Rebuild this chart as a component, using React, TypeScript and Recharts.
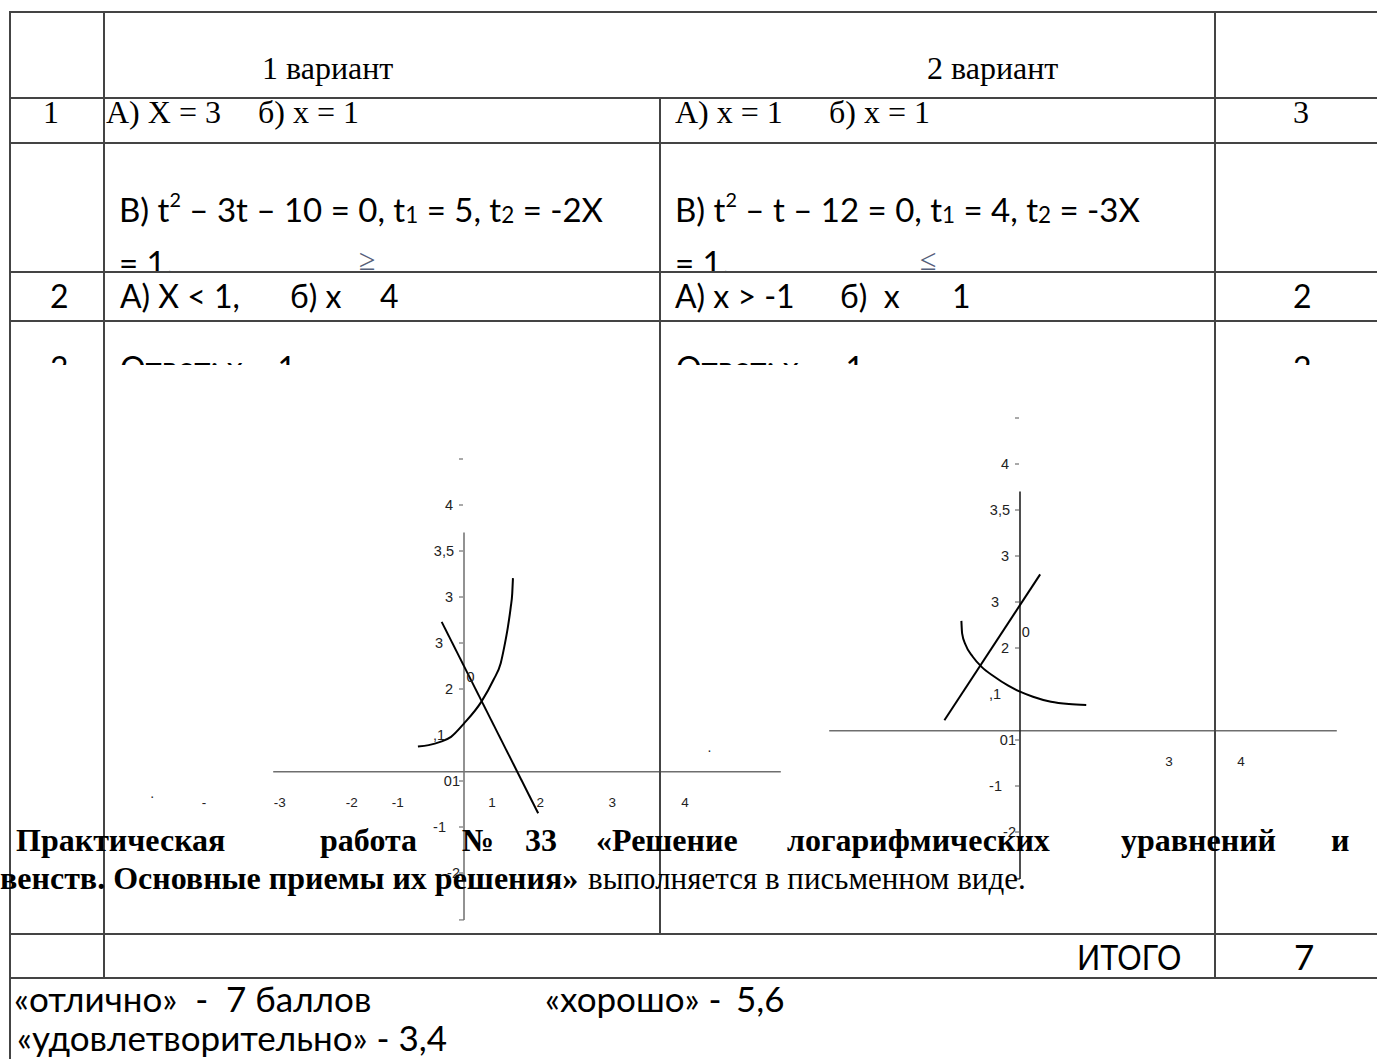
import React from 'react';
import { LineChart, Line, XAxis, YAxis, ReferenceLine, ReferenceDot } from 'recharts';

// ---------- chart data ----------
const yTickValues = [-2, -1, 0, 1, 2, 3, 4, 5, 6, 7];
const yTickLabels = ['-2', '-1', '01', ',1', '2', '3', '3', '3,5', '4', ''];

const xLabelValues1 = [-3.61, -2.56, -1.56, -0.92, 0.39, 1.06, 2.06, 3.07];
const xLabelTexts1 = ['-', '-3', '-2', '-1', '1', '2', '3', '4'];
const xLabelValues2 = [2.07, 3.07];
const xLabelTexts2 = ['3', '4'];

const curve1 = [
  { x: -0.64, y: 0.75 },
  { x: -0.49, y: 0.78 },
  { x: -0.33, y: 0.85 },
  { x: -0.18, y: 0.96 },
  { x: 0.0, y: 1.25 },
  { x: 0.24, y: 1.72 },
  { x: 0.41, y: 2.2 },
  { x: 0.51, y: 2.56 },
  { x: 0.56, y: 2.92 },
  { x: 0.61, y: 3.35 },
  { x: 0.65, y: 3.79 },
  { x: 0.67, y: 4.08 },
  { x: 0.68, y: 4.41 },
];
const line1 = [
  { x: -0.31, y: 3.46 },
  { x: 1.03, y: -0.7 },
];

const curve2 = [
  { x: -0.814, y: 2.59 },
  { x: -0.804, y: 2.32 },
  { x: -0.756, y: 2.07 },
  { x: -0.656, y: 1.81 },
  { x: -0.533, y: 1.59 },
  { x: -0.36, y: 1.38 },
  { x: -0.163, y: 1.18 },
  { x: 0.0, y: 1.05 },
  { x: 0.18, y: 0.94 },
  { x: 0.43, y: 0.83 },
  { x: 0.68, y: 0.78 },
  { x: 0.92, y: 0.76 },
];
const line2 = [
  { x: -1.05, y: 0.43 },
  { x: 0.28, y: 3.6 },
];

const axisXExtent = [-2.65, 4.4];
const axisXLevel = 0.2;
const axisYExtent = [-3.02, 5.4];
const xLabelLevel = -0.47;

// ---------- styles ----------
const yLabelShift: Record<number, number> = { [-2]: -4, [-1]: -18, 0: -4, 1: -19, 2: -11, 3: -21, 4: -11, 5: -10, 6: -11, 7: -10 };
const GFONT = '"Liberation Sans", Arial, sans-serif';
const SERIF = '"Liberation Serif", "Times New Roman", serif';
const SANS = 'Lato, "Liberation Sans", sans-serif';

const makeYTick = (label: string, v: number) => (p: any) => (
  <g>
    {v !== 1 && <line x1={p.cx - 5} x2={p.cx - 1} y1={p.cy} y2={p.cy} stroke="#555" strokeWidth={1} />}
    <text x={p.cx + (yLabelShift[v] ?? -10)} y={p.cy} dy="0.36em" textAnchor="end" fontSize={14.5} fontFamily={GFONT} fill="#222">
      {label}
    </text>
  </g>
);

const makeText = (label: string, size = 14) => (p: any) => (
  <text x={p.cx} y={p.cy} dy="0.36em" textAnchor="middle" fontSize={size} fontFamily={GFONT} fill="#222">
    {label}
  </text>
);

type GraphProps = {
  left: number;
  top: number;
  width: number;
  height: number;
  xDomain: [number, number];
  curve: { x: number; y: number }[];
  line: { x: number; y: number }[];
  xLabelValues: number[];
  xLabelTexts: string[];
  zeroPos: { x: number; y: number };
  extra?: { x: number; y: number; t: string }[];
  yAxisColor: string;
};

function Graph(props: GraphProps) {
  const { left, top, width, height, xDomain, curve, line, xLabelValues, xLabelTexts, zeroPos, extra, yAxisColor } = props;
  return (
    <div style={{ position: 'absolute', left, top, width, height }}>
      <LineChart width={width} height={height} margin={{ top: 0, right: 0, bottom: 0, left: 0 }}>
        <XAxis type="number" dataKey="x" domain={xDomain} hide allowDataOverflow />
        <YAxis type="number" dataKey="y" domain={[-3.5, 7.5]} hide allowDataOverflow />
        <ReferenceLine
          segment={[{ x: axisXExtent[0], y: axisXLevel }, { x: axisXExtent[1], y: axisXLevel }]}
          stroke="#6e6e6e"
          strokeWidth={1.6}
          ifOverflow="visible"
        />
        <ReferenceLine
          segment={[{ x: 0, y: axisYExtent[0] }, { x: 0, y: axisYExtent[1] }]}
          stroke={yAxisColor}
          strokeWidth={1.6}
          ifOverflow="visible"
        />
        <ReferenceLine
          segment={[{ x: -0.07, y: axisYExtent[0] }, { x: 0, y: axisYExtent[0] }]}
          stroke={yAxisColor}
          strokeWidth={1.2}
          ifOverflow="visible"
        />
        {yTickValues.map((v, i) => (
          <ReferenceDot key={'yt' + i} x={0} y={v} r={1} ifOverflow="visible" shape={makeYTick(yTickLabels[i], v)} />
        ))}
        {xLabelValues.map((v, i) => (
          <ReferenceDot key={'xl' + i} x={v} y={xLabelLevel} r={1} ifOverflow="visible" shape={makeText(xLabelTexts[i], 13.5)} />
        ))}
        <ReferenceDot x={zeroPos.x} y={zeroPos.y} r={1} ifOverflow="visible" shape={makeText('0', 14.5)} />
        {(extra || []).map((e, i) => (
          <ReferenceDot key={'ex' + i} x={e.x} y={e.y} r={1} ifOverflow="visible" shape={makeText(e.t, 14)} />
        ))}
        <Line data={curve} dataKey="y" type="monotone" stroke="#000" strokeWidth={2} dot={false} isAnimationActive={false} />
        <Line data={line} dataKey="y" type="linear" stroke="#000" strokeWidth={2} dot={false} isAnimationActive={false} />
      </LineChart>
    </div>
  );
}

// ---------- page helpers ----------
const SERIF_BASE = 0.8375;
const SANS_BASE = 0.887;

function Txt(props: {
  x: number;
  base: number;
  size: number;
  serif?: boolean;
  bold?: boolean;
  color?: string;
  children: React.ReactNode;
  style?: React.CSSProperties;
}) {
  const { x, base, size, serif, bold, color, children, style } = props;
  const top = base - (serif ? SERIF_BASE : SANS_BASE) * size;
  return (
    <div
      style={{
        position: 'absolute',
        left: x,
        top,
        fontSize: size,
        lineHeight: `${size}px`,
        fontFamily: serif ? SERIF : SANS,
        fontWeight: bold ? 700 : 400,
        color: color || '#000',
        whiteSpace: 'pre',
        ...style,
      }}
    >
      {children}
    </div>
  );
}

const HL = (y: number, x1: number, x2: number) => (
  <div style={{ position: 'absolute', left: x1, top: y, width: x2 - x1, height: 2, background: '#444' }} />
);
const VL = (x: number, y1: number, y2: number) => (
  <div style={{ position: 'absolute', left: x, top: y1, width: 2, height: y2 - y1, background: '#444' }} />
);

const Sup = ({ c }: { c: string }) => <span style={{ fontSize: '0.6em', position: 'relative', top: '-0.75em' }}>{c}</span>;
const Sub = ({ c }: { c: string }) => <span style={{ fontSize: '0.68em', position: 'relative', top: '0.05em' }}>{c}</span>;

function Clip(props: { top: number; height: number; children: React.ReactNode }) {
  return (
    <div style={{ position: 'absolute', left: 0, top: props.top, width: 1377, height: props.height, overflow: 'hidden' }}>
      <div style={{ position: 'absolute', left: 0, top: -props.top, width: 1377, height: 1059 }}>{props.children}</div>
    </div>
  );
}

export default function App() {
  return (
    <div style={{ position: 'absolute', left: 0, top: 0, width: 1377, height: 1059, background: '#fff', overflow: 'hidden' }}>
      {/* graphs */}
      <Graph
        left={140}
        top={436}
        width={648}
        height={506}
        xDomain={[-4.5, 4.5]}
        curve={curve1}
        line={line1}
        xLabelValues={xLabelValues1}
        xLabelTexts={xLabelTexts1}
        zeroPos={{ x: 0.09, y: 2.26 }}
        extra={[
          { x: -4.33, y: -0.25, t: '.' },
          { x: 3.41, y: 0.75, t: '.' },
        ]}
        yAxisColor="#777"
      />
      <Graph
        left={804}
        top={395}
        width={540}
        height={506}
        xDomain={[-3, 4.5]}
        curve={curve2}
        line={line2}
        xLabelValues={xLabelValues2}
        xLabelTexts={xLabelTexts2}
        zeroPos={{ x: 0.08, y: 2.35 }}
        yAxisColor="#222"
      />

      {/* table lines */}
      {HL(11, 10, 1377)}
      {HL(97, 10, 1377)}
      {HL(142, 10, 1377)}
      {HL(271, 10, 1377)}
      {HL(320, 10, 1377)}
      {HL(933, 10, 1377)}
      {HL(977, 10, 1377)}
      {VL(9, 11, 1059)}
      {VL(103, 11, 979)}
      {VL(659, 97, 935)}
      {VL(1214, 11, 979)}

      {/* header */}
      <Txt x={262} base={79} size={32} serif>1 вариант</Txt>
      <Txt x={927} base={79} size={32} serif>2 вариант</Txt>

      {/* row 1 */}
      <Txt x={43} base={123} size={32} serif>1</Txt>
      <Txt x={106} base={123} size={32} serif>А) X = 3</Txt>
      <Txt x={258} base={123} size={32} serif>б) x = 1</Txt>
      <Txt x={675} base={123} size={32} serif>А) x = 1</Txt>
      <Txt x={829} base={123} size={32} serif>б) x = 1</Txt>
      <Txt x={1293} base={123} size={32} serif>3</Txt>

      {/* row B */}
      <Clip top={143} height={128}>
        <Txt x={119} base={222} size={33}>
          В) t<Sup c="2" /> – 3t – 10 = 0, t<Sub c="1" /> = 5, t<Sub c="2" /> = -2X
        </Txt>
        <Txt x={119} base={275} size={33}>= 1.</Txt>
        <Txt x={359} base={270} size={30} serif color="#55607a">≥</Txt>
        <Txt x={675} base={222} size={33}>
          В) t<Sup c="2" /> – t – 12 = 0, t<Sub c="1" /> = 4, t<Sub c="2" /> = -3X
        </Txt>
        <Txt x={675} base={275} size={33}>= 1.</Txt>
        <Txt x={920} base={270} size={30} serif color="#55607a">≤</Txt>
      </Clip>

      {/* row 2 */}
      <Txt x={50} base={308} size={32}>2</Txt>
      <Txt x={120} base={308} size={32}>А) X &lt; 1,</Txt>
      <Txt x={290} base={308} size={32}>б) x</Txt>
      <Txt x={380} base={308} size={32}>4</Txt>
      <Txt x={675} base={308} size={32}>А) x &gt; -1</Txt>
      <Txt x={840} base={308} size={32}>б)  x</Txt>
      <Txt x={952} base={308} size={32}>1</Txt>
      <Txt x={1293} base={308} size={32}>2</Txt>

      {/* row 3 (clipped text) */}
      <Clip top={322} height={43}>
        <Txt x={50} base={380} size={32}>3</Txt>
        <Txt x={120} base={380} size={32}>Ответ: x = 1</Txt>
        <Txt x={676} base={380} size={32}>Ответ: x = -1</Txt>
        <Txt x={1293} base={380} size={32}>2</Txt>
      </Clip>

      {/* paragraph overlapping the graphs */}
      <Txt x={16} base={851} size={32} serif bold>Практическая</Txt>
      <Txt x={320} base={851} size={32} serif bold>работа</Txt>
      <Txt x={462} base={851} size={32} serif bold>№</Txt>
      <Txt x={525} base={851} size={32} serif bold>33</Txt>
      <Txt x={596} base={851} size={32} serif bold>«Решение</Txt>
      <Txt x={787} base={851} size={32} serif bold>логарифмических</Txt>
      <Txt x={1121} base={851} size={32} serif bold>уравнений</Txt>
      <Txt x={1331} base={851} size={32} serif bold>и</Txt>
      <Txt x={0} base={889} size={32} serif bold>венств. Основные приемы их решения»</Txt>
      <Txt x={588} base={889} size={31} serif>выполняется в письменном виде.</Txt>

      {/* total row */}
      <Txt x={1077} base={970} size={35} style={{ transform: 'scaleX(0.87)', transformOrigin: 'left center' }}>ИТОГО</Txt>
      <Txt x={1294} base={970} size={35}>7</Txt>

      {/* grades */}
      <Txt x={14} base={1012} size={35}>«отлично»  -</Txt>
      <Txt x={226} base={1012} size={35}>7 баллов</Txt>
      <Txt x={545} base={1012} size={35}>«хорошо» -</Txt>
      <Txt x={736} base={1012} size={35}>5,6</Txt>
      <Txt x={17} base={1051} size={35}>«удовлетворительно» - 3,4</Txt>
    </div>
  );
}
